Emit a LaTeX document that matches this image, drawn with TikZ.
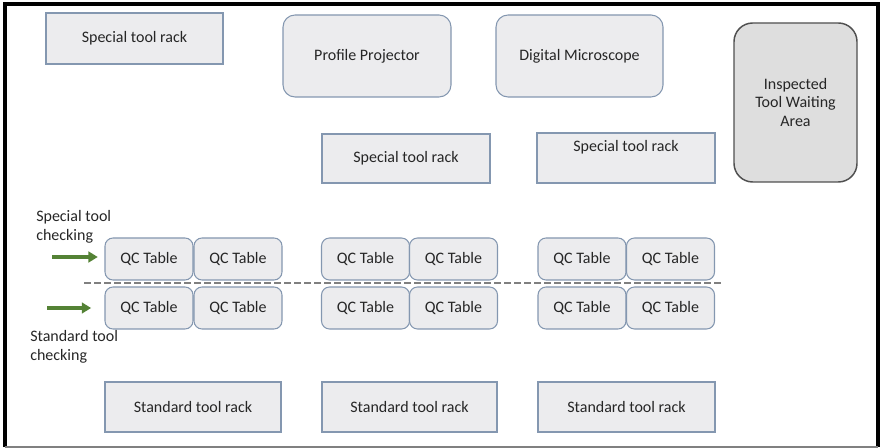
\documentclass[tikz,border=0pt]{standalone}
\usepackage{fontspec}
\setmainfont{Carlito}
\usepackage{tikz}
\usetikzlibrary{arrows.meta}

\definecolor{boxfill}{RGB}{236,236,238}
\definecolor{boxline}{RGB}{132,151,176}
\definecolor{areafill}{RGB}{222,222,222}
\definecolor{arealine}{RGB}{80,80,80}
\definecolor{arrowgreen}{RGB}{84,130,53}
\definecolor{txt}{RGB}{38,38,38}

\begin{document}
\begin{tikzpicture}
	[
		x=0.75pt, y=-0.75pt,
		every node/.style={font=\fontsize{12}{14.2}\selectfont, text=txt},
		rack/.style={draw=boxline, fill=boxfill, line width=0.8pt, inner sep=0pt},
		device/.style={rack, rounded corners=9pt},
		qctable/.style={rack, rounded corners=6pt, minimum width=66pt, minimum height=31.5pt},
		waiting/.style={draw=arealine, fill=areafill, line width=1.1pt, rounded corners=14pt, inner sep=0pt, align=center},
		flow/.style={-{Triangle[length=7pt,width=8pt]}, arrowgreen, line width=2.6pt}
	]

	\useasboundingbox (0,0) rectangle (880,448);

	% Outer frame.
	\draw[black, line width=2.6pt] (5,447) -- (5,4) -- (878,4) -- (878,447);
	\draw[gray, line width=1.5pt] (5,447) -- (878,447);

	% Top row.
	\node[rack, minimum width=132.75pt, minimum height=38.25pt] (rackA) at (134.5,38.5) {Special tool rack};
	\node[device, minimum width=126pt, minimum height=61.5pt] (projector) at (367,56) {Profile Projector};
	\node[device, minimum width=125.25pt, minimum height=61.5pt] (microscope) at (579.5,56) {Digital Microscope};
	\node[waiting, minimum width=92.25pt, minimum height=119.25pt] (waiting) at (795.5,102.5) {Inspected\\Tool Waiting\\Area};

	% Middle racks.
	\node[rack, minimum width=126pt, minimum height=36.75pt] (rackB) at (406,158.5) {Special tool rack};
	\node[rack, minimum width=133.5pt, minimum height=37.5pt, text depth=17.5pt] (rackC) at (626,158) {Special tool rack};

	% QC tables.
	\node[qctable] (qcA1) at (149,259) {QC Table};
	\node[qctable] (qcA2) at (238,259) {QC Table};
	\node[qctable] (qcA3) at (149,308) {QC Table};
	\node[qctable] (qcA4) at (238,308) {QC Table};

	\node[qctable] (qcB1) at (365.5,259) {QC Table};
	\node[qctable] (qcB2) at (453.5,259) {QC Table};
	\node[qctable] (qcB3) at (365.5,308) {QC Table};
	\node[qctable] (qcB4) at (453.5,308) {QC Table};

	\node[qctable] (qcC1) at (582,259) {QC Table};
	\node[qctable] (qcC2) at (670.5,259) {QC Table};
	\node[qctable] (qcC3) at (582,308) {QC Table};
	\node[qctable] (qcC4) at (670.5,308) {QC Table};

	% Separation line.
	\coordinate (dashL) at (84,283);
	\coordinate (dashR) at (722,283);
	\draw[gray, line width=1pt, dash pattern=on 5pt off 2.5pt] (dashL) -- (dashR);

	% Incoming tools.
	\node[anchor=north west, align=left, inner sep=0pt] (specialIn) at (36,210) {Special tool\\checking};
	\node[anchor=north west, align=left, inner sep=0pt] (standardIn) at (30,330) {Standard tool\\checking};
	\coordinate (specialStart) at (52,257);
	\coordinate (standardStart) at (47,308);
	\draw[flow, shorten >=5pt] (specialStart) -- (specialStart -| qcA1.west);
	\draw[flow, shorten >=10pt] (standardStart) -- (standardStart -| qcA3.west);

	% Bottom racks.
	\node[rack, minimum width=132pt, minimum height=37.5pt] (rackD) at (193,407) {Standard tool rack};
	\node[rack, minimum width=131.25pt, minimum height=37.5pt] (rackE) at (409.5,407) {Standard tool rack};
	\node[rack, minimum width=132.75pt, minimum height=37.5pt] (rackF) at (626.5,407) {Standard tool rack};
\end{tikzpicture}
\end{document}
